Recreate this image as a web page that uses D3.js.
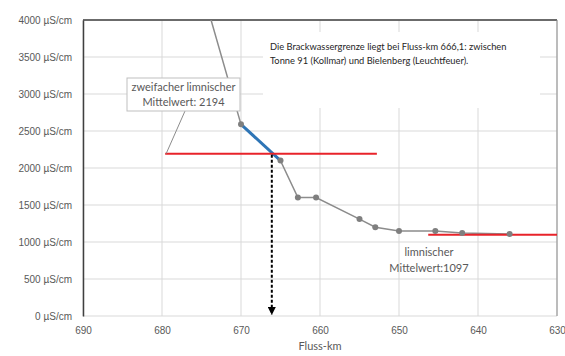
<!DOCTYPE html>
<html>
<head>
<meta charset="utf-8">
<script src="https://cdn.jsdelivr.net/npm/d3@7"></script>
<style>
  body { margin: 0; background: #fff; }
  svg { display: block; font-family: Lato, 'Liberation Sans', sans-serif; }
</style>
</head>
<body>
<div class="chart"></div>
<script>
// Leitfähigkeit entlang der Elbe
const km = [675, 670, 665, 662.8, 660.5, 655, 653, 650, 645.4, 642, 636];
const leitf = [4450, 2590, 2100, 1600, 1600, 1310, 1200, 1150, 1150, 1120, 1108];

const xTicks = [690, 680, 670, 660, 650, 640, 630];
const yTicks = [0, 500, 1000, 1500, 2000, 2500, 3000, 3500, 4000];

const grenzeKm = 666.1;
const doppelMittel = 2194;
const doppelRange = [679.6, 652.8];
const limnMittel = 1097;
const limnRange = [646.3, 630];

const width = 565, height = 356;
const margin = { top: 20, right: 8, bottom: 40, left: 83 };

const svg = d3.select('.chart')
  .append('svg')
  .attr('width', width)
  .attr('height', height);

const x = d3.scaleLinear().domain([690, 630]).range([margin.left, width - margin.right]);
const y = d3.scaleLinear().domain([0, 4000]).range([height - margin.bottom, margin.top]);

const grid = svg.append('g');
grid.selectAll('.gx').data(xTicks).join('line')
  .attr('x1', d => x(d)).attr('x2', d => x(d))
  .attr('y1', y(0)).attr('y2', y(4000))
  .attr('stroke', '#d9d9d9').attr('stroke-width', 1);
grid.selectAll('.gy').data(yTicks).join('line')
  .attr('x1', x(690)).attr('x2', x(630))
  .attr('y1', d => y(d)).attr('y2', d => y(d))
  .attr('stroke', '#d9d9d9').attr('stroke-width', 1);

// white text box covers the grid
svg.append('rect')
  .attr('x', 263).attr('y', 32).attr('width', 277).attr('height', 76)
  .attr('fill', '#fff');

// frame
svg.append('line')
  .attr('x1', x(690)).attr('x2', x(630)).attr('y1', y(4000)).attr('y2', y(4000))
  .attr('stroke', '#404040').attr('stroke-width', 1.5);
svg.append('line')
  .attr('x1', x(630)).attr('x2', x(630)).attr('y1', y(4000)).attr('y2', y(0))
  .attr('stroke', '#8c8c8c').attr('stroke-width', 1);

// axes
const yAxis = svg.append('g')
  .attr('transform', `translate(${margin.left},0)`)
  .call(d3.axisLeft(y).tickValues(yTicks).tickSize(0).tickPadding(11)
    .tickFormat(d => d + ' µS/cm'));
yAxis.select('.domain').attr('stroke', '#404040').attr('stroke-width', 1.5);
yAxis.selectAll('text').attr('fill', '#595959').style('font-size', '10px');

const xAxis = svg.append('g')
  .attr('transform', `translate(0,${y(0)})`)
  .call(d3.axisBottom(x).tickValues(xTicks).tickSize(0).tickPadding(11));
xAxis.select('.domain').remove();
xAxis.selectAll('text').attr('fill', '#595959').style('font-size', '10px');

svg.append('text')
  .attr('x', x(660)).attr('y', 350)
  .attr('text-anchor', 'middle')
  .attr('fill', '#595959').style('font-size', '11px')
  .text('Fluss-km');

// data line, clipped to plot area
svg.append('clipPath').attr('id', 'plot')
  .append('rect')
  .attr('x', x(690)).attr('y', y(4000))
  .attr('width', x(630) - x(690)).attr('height', y(0) - y(4000));

const pts = km.map((k, i) => [k, leitf[i]]);
const line = d3.line().x(d => x(d[0])).y(d => y(d[1]));

svg.append('path')
  .datum(pts)
  .attr('clip-path', 'url(#plot)')
  .attr('d', line)
  .attr('fill', 'none').attr('stroke', '#8c8c8c').attr('stroke-width', 1.5);

// blue segment through the crossing
svg.append('path')
  .datum(pts.slice(1, 3))
  .attr('d', line)
  .attr('fill', 'none').attr('stroke', '#2e75b6').attr('stroke-width', 3);

// red reference lines
svg.append('line')
  .attr('x1', x(doppelRange[0])).attr('x2', x(doppelRange[1]))
  .attr('y1', y(doppelMittel)).attr('y2', y(doppelMittel))
  .attr('stroke', '#e8232a').attr('stroke-width', 2);
svg.append('line')
  .attr('x1', x(limnRange[0])).attr('x2', x(limnRange[1]))
  .attr('y1', y(limnMittel)).attr('y2', y(limnMittel))
  .attr('stroke', '#e8232a').attr('stroke-width', 2);

svg.append('g').selectAll('circle')
  .data(pts.slice(1)).join('circle')
  .attr('cx', d => x(d[0])).attr('cy', d => y(d[1]))
  .attr('r', 3).attr('fill', '#7f7f7f');

// dashed arrow down to the axis
svg.append('defs').append('marker')
  .attr('id', 'arrow').attr('viewBox', '0 0 10 10')
  .attr('refX', 10).attr('refY', 5)
  .attr('markerWidth', 4).attr('markerHeight', 4)
  .attr('orient', 'auto')
  .append('path').attr('d', 'M0,0L10,5L0,10z').attr('fill', '#000');
svg.append('line')
  .attr('x1', x(grenzeKm)).attr('x2', x(grenzeKm))
  .attr('y1', y(doppelMittel) + 1).attr('y2', y(0) - 1)
  .attr('stroke', '#000').attr('stroke-width', 2)
  .attr('stroke-dasharray', '3,2')
  .attr('marker-end', 'url(#arrow)');

// callout for the double mean
svg.append('line')
  .attr('x1', 185).attr('y1', 111).attr('x2', x(doppelRange[0]) + 1).attr('y2', y(doppelMittel))
  .attr('stroke', '#8c8c8c').attr('stroke-width', 1);
svg.append('rect')
  .attr('x', 127).attr('y', 78).attr('width', 113).attr('height', 33)
  .attr('fill', '#fff').attr('stroke', '#bfbfbf').attr('stroke-width', 1);
svg.append('text')
  .attr('x', 183.5).attr('y', 91)
  .attr('text-anchor', 'middle').attr('fill', '#595959').style('font-size', '11px')
  .text('zweifacher limnischer');
svg.append('text')
  .attr('x', 183.5).attr('y', 106)
  .attr('text-anchor', 'middle').attr('fill', '#595959').style('font-size', '11px')
  .text('Mittelwert: ' + doppelMittel);

// limnic mean label
svg.append('text')
  .attr('x', 429).attr('y', 256)
  .attr('text-anchor', 'middle').attr('fill', '#595959').style('font-size', '11px')
  .text('limnischer');
svg.append('text')
  .attr('x', 429).attr('y', 272)
  .attr('text-anchor', 'middle').attr('fill', '#595959').style('font-size', '11px')
  .text('Mittelwert:' + limnMittel);

// note text
svg.append('text')
  .attr('x', 270).attr('y', 50)
  .attr('fill', '#262626').style('font-size', '9.3px')
  .text('Die Brackwassergrenze liegt bei Fluss-km 666,1: zwischen');
svg.append('text')
  .attr('x', 270).attr('y', 64)
  .attr('fill', '#262626').style('font-size', '9.3px')
  .text('Tonne 91 (Kollmar) und Bielenberg (Leuchtfeuer).');
</script>
</body>
</html>
